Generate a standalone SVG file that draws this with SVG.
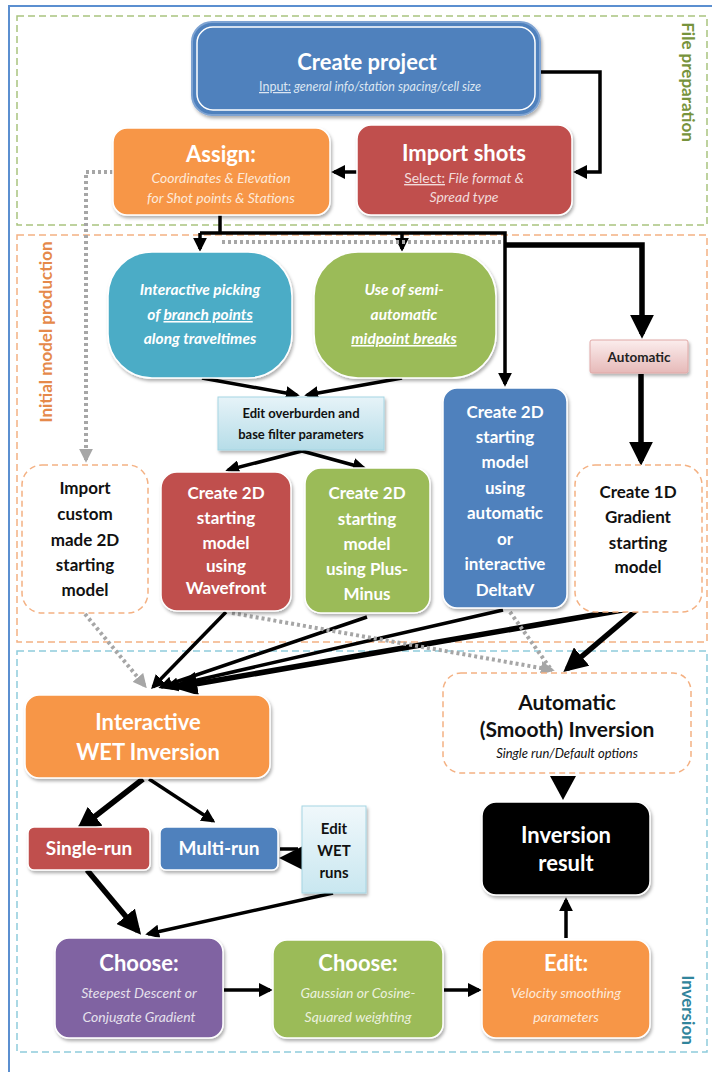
<svg xmlns="http://www.w3.org/2000/svg" width="712" height="1072" viewBox="0 0 712 1072">
<defs>
<style>
.sec{fill:none;stroke-width:1.5;stroke-dasharray:7 4}
.lbl{font-family:Lato,"Liberation Sans",sans-serif;font-weight:700;font-size:17px;text-anchor:middle;dominant-baseline:central}
.n{stroke:#fff;stroke-width:1.5;filter:url(#sh)}
.dn{fill:#fff;stroke:#f4b183;stroke-width:1.5;stroke-dasharray:6 4}
text{font-family:Lato,"Liberation Sans",sans-serif;text-anchor:middle}
.w{fill:#fff}
.b{font-weight:700}
.i{font-style:italic}
.k{fill:#111}
.u{text-decoration:underline}
.ln{fill:none;stroke:#000;stroke-width:3.5}
.th{fill:none;stroke:#000;stroke-width:5.5}
.gd{fill:none;stroke:#a6a6a6;stroke-width:4;stroke-dasharray:3 3}
</style>
<filter id="sh" x="-10%" y="-10%" width="130%" height="140%"><feDropShadow dx="1.5" dy="2.5" stdDeviation="1.5" flood-color="#000" flood-opacity="0.3"/></filter>
<linearGradient id="gLB" x1="0" y1="0" x2="0" y2="1"><stop offset="0" stop-color="#e6f3f8"/><stop offset="1" stop-color="#b6dde8"/></linearGradient>
<linearGradient id="gLB2" x1="0" y1="0" x2="0" y2="1"><stop offset="0" stop-color="#f0f8fb"/><stop offset="1" stop-color="#c9e7f0"/></linearGradient>
<linearGradient id="gPk" x1="0" y1="0" x2="0" y2="1"><stop offset="0" stop-color="#fbeded"/><stop offset="1" stop-color="#e6b9b8"/></linearGradient>
<marker id="a" viewBox="0 0 10 10" refX="8" refY="5" markerWidth="14" markerHeight="14" markerUnits="userSpaceOnUse" orient="auto"><path d="M0,0L10,5L0,10z" fill="#000"/></marker>
<marker id="A" viewBox="0 0 10 10" refX="8" refY="5" markerWidth="24" markerHeight="24" markerUnits="userSpaceOnUse" orient="auto"><path d="M0,0L10,5L0,10z" fill="#000"/></marker>
<marker id="g" viewBox="0 0 10 10" refX="8" refY="5" markerWidth="14" markerHeight="14" markerUnits="userSpaceOnUse" orient="auto"><path d="M0,0L10,5L0,10z" fill="#a6a6a6"/></marker>
</defs>
<rect width="712" height="1072" fill="#fff"/>
<path d="M9,1072V6H712" fill="none" stroke="#5b8fd0" stroke-width="2"/>
<g id="sections">
<rect class="sec" x="17" y="16" width="690" height="209" stroke="#a9c47f"/>
<rect class="sec" x="17" y="235" width="690" height="407" stroke="#f4b183"/>
<rect class="sec" x="17" y="651" width="690" height="401" stroke="#8fcbdc"/>
<text class="lbl" transform="translate(688,82) rotate(90)" fill="#77933c">File preparation</text>
<text class="lbl" transform="translate(45,332) rotate(-90)" fill="#e5894a">Initial model production</text>
<text class="lbl" transform="translate(688,1010) rotate(90)" fill="#31859c">Inversion</text>
</g>
<g id="connectors">
<path class="ln" d="M540,72H600V172H576" marker-end="url(#a)"/>
<path class="ln" d="M357,172H334" marker-end="url(#a)"/>
<path class="gd" d="M113,172H86V460" marker-end="url(#g)"/>
<path class="ln" d="M220,215V233"/>
<path class="ln" d="M200,233H505V384" marker-end="url(#a)"/>
<path class="ln" d="M200,233V249" marker-end="url(#a)"/>
<path class="ln" d="M402,233V249" marker-end="url(#a)"/>
<path class="gd" d="M222,242H502"/>
<path class="th" d="M505,245H642V334" marker-end="url(#A)"/>
<path class="th" d="M641,374V461" marker-end="url(#A)"/>
<path class="ln" d="M202,378L297,395" marker-end="url(#a)"/>
<path class="ln" d="M402,378L307,395" marker-end="url(#a)"/>
<path class="ln" d="M302,451L228,470" marker-end="url(#a)"/>
<path class="ln" d="M302,451L364,468" marker-end="url(#a)"/>
<path class="ln" d="M226,612L153,687" marker-end="url(#a)"/>
<path class="ln" d="M367,617L161,687" marker-end="url(#a)"/>
<path class="ln" d="M503,610L167,687" marker-end="url(#a)"/>
<path class="th" d="M640,607L178,687" marker-end="url(#A)"/>
<path class="gd" d="M85,614L145,686" marker-end="url(#g)"/>
<path class="th" d="M640,607L567,669" marker-end="url(#A)"/>
<path class="gd" d="M232,613L552,670" marker-end="url(#g)"/>
<path class="gd" d="M510,612L550,668"/>
<polygon points="550,776 576,776 563,800" fill="#000"/>
<path class="th" d="M143,779L80,828" marker-end="url(#A)"/>
<path class="ln" d="M149,779L213,821" marker-end="url(#a)"/>
<path class="ln" d="M280,849H298"/>
<polygon points="279,858 303,846 303,870" fill="#000"/>
<path class="th" d="M87,870L138,931" marker-end="url(#A)"/>
<path class="ln" d="M333,893L148,934" marker-end="url(#a)"/>
<path class="ln" d="M224,990H270" marker-end="url(#a)"/>
<path class="ln" d="M444,990H479" marker-end="url(#a)"/>
<path class="ln" d="M566,938V900" marker-end="url(#a)"/>
</g>
<g id="create-project">
<rect x="192" y="22" width="348" height="93" rx="20" fill="#4f81bd" stroke="#7ea3d2" stroke-width="2" filter="url(#sh)"/>
<rect x="197" y="27" width="338" height="83" rx="16" fill="none" stroke="#fff" stroke-width="1.5"/>
<text x="367" y="70" class="w b" font-size="22">Create project</text>
<text x="370" y="91" font-size="12.5" fill="#dce6f2"><tspan class="u">Input:</tspan><tspan class="i"> general info/station spacing/cell size</tspan></text>
</g>
<g id="import-shots">
<rect class="n" x="357" y="125" width="215" height="90" rx="14" fill="#c0504d"/>
<text x="464" y="161" class="w b" font-size="22">Import shots</text>
<text x="464" y="183" font-size="14" fill="#f2dcdb"><tspan class="u">Select:</tspan><tspan class="i"> File format &amp;</tspan></text>
<text x="464" y="202" font-size="14" fill="#f2dcdb" class="i">Spread type</text>
</g>
<g id="assign">
<rect class="n" x="113" y="128" width="217" height="87" rx="14" fill="#f79646"/>
<text x="221" y="162" class="w b" font-size="22">Assign:</text>
<text x="221" y="183" font-size="14" fill="#fde9d9" class="i">Coordinates &amp; Elevation</text>
<text x="221" y="203" font-size="14" fill="#fde9d9" class="i">for Shot points &amp; Stations</text>
</g>
<g id="interactive-picking">
<rect class="n" x="108" y="252" width="184" height="126" rx="44" fill="#4bacc6"/>
<text x="200" y="295" class="w b i" font-size="15.5">Interactive picking</text>
<text x="200" y="320" class="w b i" font-size="15.5">of <tspan class="u">branch points</tspan></text>
<text x="200" y="344" class="w b i" font-size="15.5">along traveltimes</text>
</g>
<g id="semi-automatic">
<rect class="n" x="314" y="252" width="182" height="126" rx="44" fill="#9bbb59"/>
<text x="404" y="295" class="w b i" font-size="15.5">Use of semi-</text>
<text x="404" y="320" class="w b i" font-size="15.5">automatic</text>
<text x="404" y="344" class="w b i" font-size="15.5"><tspan class="u">midpoint breaks</tspan></text>
</g>
<g id="automatic">
<rect x="590" y="340" width="98" height="33" rx="2" fill="url(#gPk)" stroke="#e0a8a6" stroke-width="1" filter="url(#sh)"/>
<text x="639" y="362" class="b" font-size="13.5" fill="#222">Automatic</text>
</g>
<g id="edit-overburden">
<rect x="218" y="397" width="166" height="53" fill="url(#gLB)" stroke="#a5d5e3" stroke-width="1" filter="url(#sh)"/>
<text x="301" y="418" class="b" font-size="13" fill="#111">Edit overburden and</text>
<text x="301" y="439" class="b" font-size="13" fill="#111">base filter parameters</text>
</g>
<g id="deltatv">
<rect class="n" x="443" y="388" width="124" height="220" rx="14" fill="#4f81bd"/>
<text class="w b" font-size="17" x="505" y="418">Create 2D</text>
<text class="w b" font-size="17" x="505" y="443">starting</text>
<text class="w b" font-size="17" x="505" y="468">model</text>
<text class="w b" font-size="17" x="505" y="494">using</text>
<text class="w b" font-size="17" x="505" y="519">automatic</text>
<text class="w b" font-size="17" x="505" y="545">or</text>
<text class="w b" font-size="17" x="505" y="570">interactive</text>
<text class="w b" font-size="17" x="505" y="596">DeltatV</text>
</g>
<g id="import-custom">
<rect class="dn" x="22" y="465" width="126" height="148" rx="20"/>
<text class="k b" font-size="17" x="85" y="494">Import</text>
<text class="k b" font-size="17" x="85" y="520">custom</text>
<text class="k b" font-size="17" x="85" y="546">made 2D</text>
<text class="k b" font-size="17" x="85" y="571">starting</text>
<text class="k b" font-size="17" x="85" y="596">model</text>
</g>
<g id="wavefront">
<rect class="n" x="161" y="472" width="130" height="139" rx="16" fill="#c0504d"/>
<text class="w b" font-size="17" x="226" y="499">Create 2D</text>
<text class="w b" font-size="17" x="226" y="524">starting</text>
<text class="w b" font-size="17" x="226" y="549">model</text>
<text class="w b" font-size="17" x="226" y="572">using</text>
<text class="w b" font-size="17" x="226" y="594">Wavefront</text>
</g>
<g id="plus-minus">
<rect class="n" x="305" y="468" width="125" height="145" rx="16" fill="#9bbb59"/>
<text class="w b" font-size="17" x="367" y="499">Create 2D</text>
<text class="w b" font-size="17" x="367" y="525">starting</text>
<text class="w b" font-size="17" x="367" y="550">model</text>
<text class="w b" font-size="17" x="367" y="575">using Plus-</text>
<text class="w b" font-size="17" x="367" y="600">Minus</text>
</g>
<g id="create-1d">
<rect class="dn" x="575" y="465" width="127" height="147" rx="20"/>
<text class="k b" font-size="17" x="638" y="498">Create 1D</text>
<text class="k b" font-size="17" x="638" y="523">Gradient</text>
<text class="k b" font-size="17" x="638" y="549">starting</text>
<text class="k b" font-size="17" x="638" y="573">model</text>
</g>
<g id="wet-inversion">
<rect class="n" x="25" y="695" width="245" height="83" rx="14" fill="#f79646"/>
<text class="w b" font-size="22" x="148" y="730">Interactive</text>
<text class="w b" font-size="22" x="148" y="760">WET Inversion</text>
</g>
<g id="automatic-inversion">
<rect class="dn" x="443" y="673" width="248" height="100" rx="18"/>
<text class="k b" font-size="21" x="567" y="710">Automatic</text>
<text class="k b" font-size="21" x="567" y="737">(Smooth) Inversion</text>
<text class="k i" font-size="13" x="567" y="758">Single run/Default options</text>
</g>
<g id="single-run">
<rect class="n" x="28" y="827" width="122" height="43" rx="6" fill="#c0504d"/>
<text class="w b" font-size="19" x="89" y="855">Single-run</text>
</g>
<g id="multi-run">
<rect class="n" x="160" y="827" width="118" height="43" rx="6" fill="#4f81bd"/>
<text class="w b" font-size="19" x="219" y="855">Multi-run</text>
</g>
<g id="edit-wet-runs">
<rect x="302" y="806" width="64" height="87" fill="url(#gLB2)" stroke="#a5d5e3" stroke-width="1" filter="url(#sh)"/>
<text class="k b" font-size="15" x="334" y="834">Edit</text>
<text class="k b" font-size="15" x="334" y="856">WET</text>
<text class="k b" font-size="15" x="334" y="878">runs</text>
</g>
<g id="inversion-result">
<rect class="n" x="482" y="802" width="168" height="93" rx="14" fill="#000"/>
<text class="w b" font-size="22" x="566" y="843">Inversion</text>
<text class="w b" font-size="22" x="566" y="871">result</text>
</g>
<g id="choose-descent">
<rect class="n" x="55" y="938" width="168" height="100" rx="14" fill="#8064a2"/>
<text class="w b" font-size="22" x="139" y="971">Choose:</text>
<text class="i" font-size="14" fill="#e5e0ec" x="139" y="998">Steepest Descent or</text>
<text class="i" font-size="14" fill="#e5e0ec" x="139" y="1022">Conjugate Gradient</text>
</g>
<g id="choose-weighting">
<rect class="n" x="273" y="940" width="170" height="98" rx="14" fill="#9bbb59"/>
<text class="w b" font-size="22" x="358" y="971">Choose:</text>
<text class="i" font-size="14" fill="#ebf1de" x="358" y="998">Gaussian or Cosine-</text>
<text class="i" font-size="14" fill="#ebf1de" x="358" y="1022">Squared weighting</text>
</g>
<g id="edit-smoothing">
<rect class="n" x="482" y="940" width="168" height="98" rx="14" fill="#f79646"/>
<text class="w b" font-size="22" x="566" y="971">Edit:</text>
<text class="i" font-size="14" fill="#fde9d9" x="566" y="998">Velocity smoothing</text>
<text class="i" font-size="14" fill="#fde9d9" x="566" y="1022">parameters</text>
</g>
</svg>
